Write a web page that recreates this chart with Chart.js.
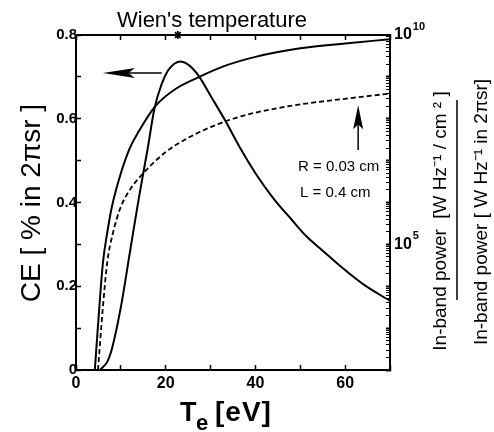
<!DOCTYPE html>
<html>
<head>
<meta charset="utf-8">
<script src="https://cdn.jsdelivr.net/npm/chart.js@4.4.1/dist/chart.umd.min.js"></script>
<style>
  html, body { margin: 0; padding: 0; background: #fff; }
</style>
</head>
<body>
<canvas id="grafica" width="494" height="432"></canvas>
<script>
// electron temperature [eV] and conversion efficiency [% in 2pi sr]
const teCE = [5.3, 7, 8, 10, 12, 14, 16, 17.5, 19, 20.5, 22, 23.3, 24.5, 26, 27.5, 30, 33.3, 36.6, 40, 44, 48, 51.3, 55, 58.7, 64, 70];
const ce = [0, 0.02, 0.05, 0.15, 0.28, 0.41, 0.53, 0.625, 0.68, 0.715, 0.732, 0.737, 0.733, 0.72, 0.70, 0.655, 0.595, 0.53, 0.47, 0.41, 0.36, 0.32, 0.285, 0.25, 0.205, 0.165];

// in-band power per cm2 (solid, right axis)
const tePower = [4.2, 5, 6, 7, 8, 10, 12, 14, 17.5, 22, 27.5, 33, 40, 50, 60, 70];
const powerArea = [1e2, 1.6e3, 3.6e4, 2e5, 7.9e5, 5e6, 2e7, 5e7, 1.9e8, 5e8, 1e9, 1.8e9, 3e9, 4.8e9, 6.3e9, 7.9e9];

// in-band power in 2pi sr (dashed, right axis)
const teSr = [4.9, 6, 7, 8.2, 9.8, 12, 15, 20, 25, 30, 35, 40, 50, 60, 70];
const powerSr = [1e2, 3.2e3, 4e4, 1.8e5, 7e5, 2e6, 5e6, 1.6e7, 3.5e7, 6.3e7, 1e8, 1.4e8, 2.2e8, 3e8, 4e8];

// Wien's temperature marker
const wienTe = [22.7];
const wienCE = [0.8];

const xTicks = [0, 20, 40, 60];
const ceTicks = [0, 0.2, 0.4, 0.6, 0.8];
const powerTicks = [1e5, 1e10];

const toPts = (xs, ys) => xs.map((x, i) => ({ x: x, y: ys[i] }));

const flecha = (ctx, x1, y1, x2, y2, largo, ancho) => {
    // shaft from (x2,y2) to the tip (x1,y1)
    let ang = Math.atan2(y1 - y2, x1 - x2);
    let c = Math.cos(ang);
    let s = Math.sin(ang);
    ctx.beginPath();
    ctx.moveTo(x2, y2);
    ctx.lineTo(x1 - c * largo * 0.8, y1 - s * largo * 0.8);
    ctx.stroke();
    ctx.beginPath();
    ctx.moveTo(x1, y1);
    ctx.lineTo(x1 - c * largo - s * ancho, y1 - s * largo + c * ancho);
    ctx.lineTo(x1 - c * largo * 0.8, y1 - s * largo * 0.8);
    ctx.lineTo(x1 - c * largo + s * ancho, y1 - s * largo - c * ancho);
    ctx.closePath();
    ctx.fill();
};

// arrows and texts drawn over the plot
const anotaciones = {
    id: "anotaciones",
    afterDatasetsDraw(chart) {
        const ctx = chart.ctx;
        const xs = chart.scales.x;
        const yl = chart.scales.yCE;
        const yr = chart.scales.yPow;
        ctx.save();
        ctx.strokeStyle = "#000";
        ctx.fillStyle = "#000";
        ctx.lineWidth = 1.5;
        // arrow to the left (CE curve)
        let ay = yl.getPixelForValue(0.709);
        flecha(ctx, xs.getPixelForValue(6), ay, xs.getPixelForValue(19.1), ay, 32, 5);
        // arrow up (right axis curves)
        let bx = xs.getPixelForValue(62.9);
        flecha(ctx, bx, yr.getPixelForValue(2.1e8), bx, yr.getPixelForValue(1.8e7), 24, 5);
        // exponents of the right axis labels
        ctx.font = "bold 16px 'Liberation Sans', Arial";
        let w10 = ctx.measureText("10").width;
        ctx.font = "bold 11px 'Liberation Sans', Arial";
        ctx.textAlign = "left";
        ctx.textBaseline = "middle";
        powerTicks.forEach((v) => {
            ctx.fillText(String(Math.round(Math.log10(v))), yr.left + 4 + w10 + 1, yr.getPixelForValue(v) - 8);
        });
        // parameters
        ctx.font = "15px 'Liberation Sans', Arial";
        let tx = xs.getPixelForValue(49.5);
        ctx.fillText("R = 0.03 cm", tx, yl.getPixelForValue(0.485));
        ctx.fillText("L = 0.4 cm", tx + 2, yl.getPixelForValue(0.423));
        // title
        ctx.font = "22px 'Liberation Sans', Arial";
        ctx.textAlign = "center";
        ctx.textBaseline = "alphabetic";
        ctx.fillText("Wien's temperature", 212, 27);
        // x axis title with subscript
        ctx.font = "bold 27px 'Liberation Sans', Arial";
        ctx.textAlign = "left";
        ctx.fillText("T", 180, 421);
        ctx.font = "bold 22px 'Liberation Sans', Arial";
        ctx.fillText("e", 196, 430);
        ctx.font = "bold 28px 'Liberation Sans', Arial";
        ctx.letterSpacing = "1px";
        ctx.fillText("[eV]", 215, 421);
        ctx.letterSpacing = "0px";
        // left axis title
        ctx.save();
        ctx.translate(40, 203);
        ctx.rotate(-Math.PI / 2);
        ctx.font = "28px 'Liberation Sans Narrow', 'Liberation Sans', Arial";
        ctx.textAlign = "center";
        ctx.fillText("CE [ % in 2\u03c0sr ]", 0, 0);
        ctx.restore();
        // right axis titles (fraction)
        ctx.translate(446, 221);
        ctx.rotate(-Math.PI / 2);
        ctx.font = "19px 'Liberation Sans Narrow', 'Liberation Sans', Arial";
        ctx.textAlign = "center";
        ctx.fillText("In-band power  [W Hz\u207b\u00b9 / cm \u00b2 ]", 0, 0);
        ctx.lineWidth = 1.5;
        ctx.beginPath();
        ctx.moveTo(-79, 11);
        ctx.lineTo(121, 11);
        ctx.stroke();
        ctx.fillText("In-band power [ W Hz\u207b\u00b9 in 2\u03c0sr]", 9, 41);
        ctx.restore();
    },
};

const ejeGrid = { display: true, drawOnChartArea: false, tickLength: -5, tickColor: "#000", tickWidth: 1.5 };

new Chart(document.getElementById("grafica"), {
    type: "scatter",
    data: {
        datasets: [
            {
                label: "CE",
                data: toPts(teCE, ce),
                yAxisID: "yCE",
                showLine: true,
                borderColor: "#000",
                borderWidth: 2,
                pointRadius: 0,
                cubicInterpolationMode: "monotone",
            },
            {
                label: "In-band power / cm2",
                data: toPts(tePower, powerArea),
                yAxisID: "yPow",
                showLine: true,
                borderColor: "#000",
                borderWidth: 2,
                pointRadius: 0,
                cubicInterpolationMode: "monotone",
            },
            {
                label: "In-band power in 2pi sr",
                data: toPts(teSr, powerSr),
                yAxisID: "yPow",
                showLine: true,
                borderColor: "#000",
                borderWidth: 1.8,
                borderDash: [5, 3],
                pointRadius: 0,
                cubicInterpolationMode: "monotone",
            },
            {
                label: "Wien's temperature",
                data: toPts(wienTe, wienCE),
                yAxisID: "yCE",
                showLine: false,
                pointStyle: "star",
                pointRadius: 4,
                borderColor: "#000",
                borderWidth: 1.8,
                clip: false,
            },
        ],
    },
    options: {
        responsive: false,
        animation: false,
        devicePixelRatio: 1,
        layout: { padding: { left: 0, top: 35, right: 0, bottom: 0 } },
        plugins: {
            legend: { display: false },
            tooltip: { enabled: false },
        },
        scales: {
            x: {
                type: "linear",
                min: 0,
                max: 70,
                border: { color: "#000", width: 2 },
                grid: ejeGrid,
                afterBuildTicks: (axis) => {
                    axis.ticks = [0, 10, 20, 30, 40, 50, 60, 70].map((v) => ({ value: v }));
                },
                ticks: {
                    color: "#000",
                    font: { size: 16, weight: "bold", family: "'Liberation Sans', Arial" },
                    padding: 9,
                    maxRotation: 0,
                    callback: (v) => (xTicks.includes(v) ? String(v) : ""),
                },
                afterFit: (axis) => {
                    axis.height = 62;
                },
            },
            xTop: {
                type: "linear",
                position: "top",
                min: 0,
                max: 70,
                border: { color: "#000", width: 2 },
                grid: ejeGrid,
                afterBuildTicks: (axis) => {
                    axis.ticks = [0, 10, 20, 30, 40, 50, 60, 70].map((v) => ({ value: v }));
                },
                ticks: { callback: () => "" },
                afterFit: (axis) => {
                    axis.height = 0;
                },
            },
            yCE: {
                type: "linear",
                position: "left",
                min: 0,
                max: 0.8,
                border: { color: "#000", width: 2 },
                grid: ejeGrid,
                afterBuildTicks: (axis) => {
                    axis.ticks = [0, 0.1, 0.2, 0.3, 0.4, 0.5, 0.6, 0.7, 0.8].map((v) => ({ value: v }));
                },
                ticks: {
                    color: "#000",
                    font: { size: 15, weight: "bold", family: "'Liberation Sans', Arial" },
                    padding: 4,
                    callback: (v) => {
                        let r = Math.round(v * 10) / 10;
                        if (!ceTicks.includes(r)) return "";
                        return r === 0 ? "0" : r.toFixed(1);
                    },
                },
                afterFit: (axis) => {
                    axis.width = 76;
                },
            },
            yPow: {
                type: "logarithmic",
                position: "right",
                min: 1e2,
                max: 1e10,
                border: { color: "#000", width: 2 },
                grid: {
                    display: true,
                    drawOnChartArea: false,
                    tickLength: -4,
                    tickColor: "#000",
                    tickWidth: (c) => (c.tick && Number.isInteger(Math.log10(c.tick.value)) ? 2 : 1),
                },
                afterBuildTicks: (axis) => {
                    let t = [];
                    for (let e = 2; e < 10; e++) {
                        for (let m = 1; m < 10; m++) t.push({ value: m * Math.pow(10, e) });
                    }
                    t.push({ value: 1e10 });
                    axis.ticks = t;
                },
                ticks: {
                    color: "#000",
                    font: { size: 16, weight: "bold", family: "'Liberation Sans', Arial" },
                    padding: 8,
                    autoSkip: false,
                    callback: (v) => (powerTicks.includes(v) ? "10" : ""),
                },
                afterFit: (axis) => {
                    axis.width = 104;
                },
            },
        },
    },
    plugins: [anotaciones],
});
</script>
</body>
</html>
